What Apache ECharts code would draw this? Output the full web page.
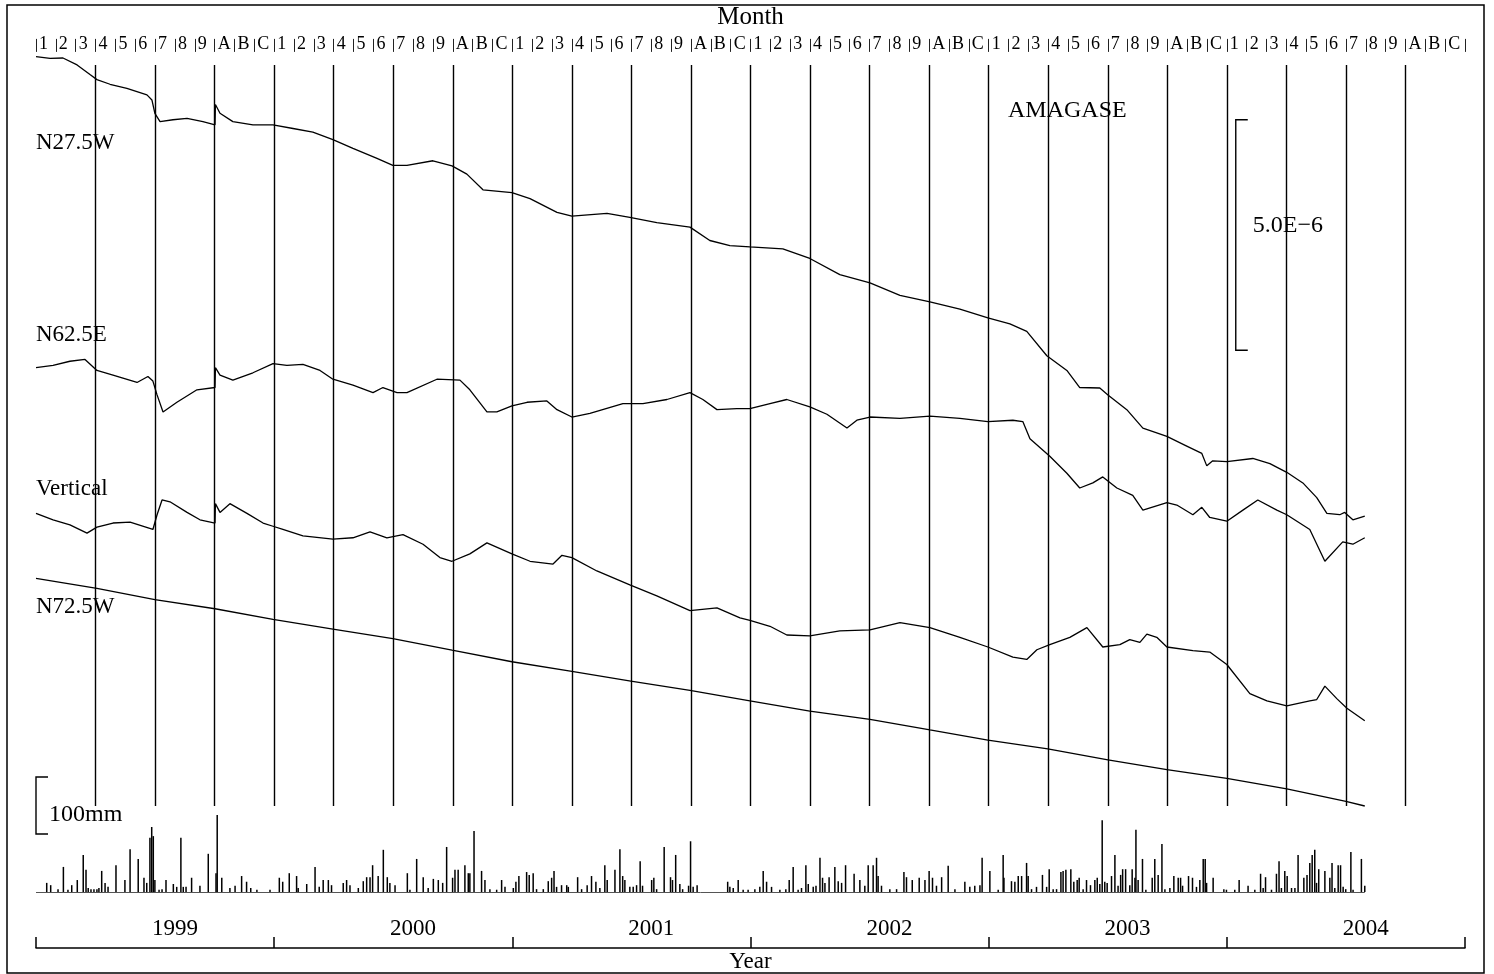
<!DOCTYPE html>
<html>
<head>
<meta charset="utf-8">
<script src="https://cdn.jsdelivr.net/npm/echarts@6.0.0/dist/echarts.min.js"></script>
<style>
  html, body { margin: 0; padding: 0; background: #fff; }
  #chart { width: 1494px; height: 974px; }
</style>
</head>
<body>
<div id="chart"></div>
<script>
// Month cells along the top (1..9, A=Oct, B=Nov, C=Dec) and the year labels below.
const MONTH_LABELS = ['1', '2', '3', '4', '5', '6', '7', '8', '9', 'A', 'B', 'C'];
const YEAR_LABELS = ['1999', '2000', '2001', '2002', '2003', '2004'];

// Strain traces: [months since 1999-01-01, strain in 1e-6 incl. the trace's plotting offset]
const N275W = [[0,16.26],[0.71,16.22],[1.36,16.23],[2.07,16.08],[2.72,15.87],[3.07,15.76],[3.73,15.66],[4.58,15.57],[5.59,15.43],[5.84,15.32],[5.99,15.03],[6.25,14.85],[6.90,14.89],[7.61,14.92],[8.41,14.85],[9.02,14.78],[9.04,15.22],[9.27,15.03],[9.92,14.85],[10.93,14.78],[11.94,14.78],[12.95,14.70],[13.95,14.62],[14.96,14.46],[15.97,14.27],[17.18,14.05],[17.98,13.90],[18.69,13.90],[20.00,14.00],[20.96,13.89],[21.71,13.71],[22.52,13.37],[23.98,13.31],[24.89,13.18],[26.25,12.88],[27.00,12.80],[28.77,12.86],[29.92,12.77],[31.28,12.66],[32.95,12.56],[33.95,12.27],[34.96,12.16],[35.97,12.13],[37.63,12.09],[38.99,11.88],[40.50,11.53],[42.02,11.35],[43.53,11.08],[45.04,10.94],[46.55,10.78],[47.96,10.59],[49.07,10.46],[49.92,10.30],[50.93,9.77],[51.94,9.45],[52.59,9.08],[53.60,9.07],[54.01,8.92],[54.96,8.60],[55.77,8.20],[56.98,8.02],[57.98,7.81],[58.74,7.65],[58.99,7.38],[59.29,7.49],[60.00,7.47],[61.31,7.54],[62.17,7.43],[63.02,7.24],[63.83,7.01],[64.53,6.69],[65.04,6.35],[65.69,6.32],[65.94,6.37],[66.35,6.21],[66.95,6.29]];

const N625E = [[0,9.51],[0.86,9.56],[1.71,9.65],[2.47,9.69],[3.07,9.45],[3.88,9.35],[5.09,9.19],[5.64,9.32],[5.89,9.22],[6.10,8.92],[6.40,8.55],[7.10,8.76],[8.11,9.03],[9.02,9.08],[9.04,9.51],[9.27,9.35],[9.92,9.24],[10.93,9.40],[11.94,9.60],[12.64,9.56],[13.45,9.58],[14.31,9.45],[14.96,9.26],[15.97,9.13],[16.98,8.97],[17.48,9.08],[18.19,8.97],[18.69,8.97],[20.20,9.26],[21.36,9.24],[21.86,9.03],[22.72,8.55],[23.22,8.55],[23.98,8.68],[24.74,8.76],[25.74,8.79],[26.25,8.60],[27.00,8.44],[27.91,8.52],[29.57,8.73],[30.58,8.73],[31.79,8.82],[32.95,8.97],[33.60,8.82],[34.31,8.60],[35.31,8.62],[35.97,8.62],[36.98,8.73],[37.83,8.82],[38.99,8.66],[39.85,8.50],[40.86,8.20],[41.36,8.37],[42.02,8.44],[43.53,8.41],[45.04,8.46],[46.55,8.41],[47.96,8.34],[49.22,8.37],[49.72,8.34],[50.08,7.97],[51.08,7.59],[51.94,7.22],[52.59,6.90],[53.25,7.01],[53.75,7.14],[54.46,6.90],[55.26,6.74],[55.77,6.42],[56.98,6.58],[57.48,6.53],[58.29,6.32],[58.74,6.48],[59.14,6.26],[60.00,6.18],[60.81,6.42],[61.56,6.64],[62.52,6.42],[63.02,6.32],[64.18,6.00],[64.94,5.31],[65.84,5.73],[66.35,5.68],[66.95,5.82]];

const VERTICAL = [[0,6.35],[0.86,6.21],[1.71,6.10],[2.57,5.92],[3.07,6.05],[3.88,6.14],[4.74,6.16],[5.89,6.00],[6.10,6.32],[6.35,6.64],[6.75,6.60],[7.61,6.37],[8.26,6.21],[9.02,6.14],[9.04,6.56],[9.27,6.37],[9.77,6.56],[10.63,6.35],[11.44,6.14],[11.94,6.07],[12.44,6.00],[13.45,5.86],[14.96,5.79],[15.97,5.82],[16.83,5.95],[17.68,5.82],[18.49,5.89],[19.50,5.68],[20.35,5.39],[20.96,5.31],[21.86,5.47],[22.72,5.71],[23.98,5.47],[24.89,5.31],[26.05,5.25],[26.50,5.44],[27.00,5.39],[28.26,5.10],[29.92,4.80],[31.28,4.56],[32.95,4.24],[34.31,4.30],[35.47,4.08],[35.97,4.03],[36.98,3.90],[37.83,3.71],[38.99,3.69],[40.50,3.80],[42.02,3.82],[43.53,3.98],[45.04,3.87],[46.55,3.66],[47.96,3.45],[49.22,3.23],[49.92,3.18],[50.43,3.39],[51.08,3.50],[52.09,3.66],[52.95,3.87],[53.75,3.45],[54.61,3.50],[55.11,3.61],[55.62,3.55],[55.97,3.73],[56.47,3.66],[56.98,3.45],[58.29,3.37],[59.14,3.34],[60.00,3.07],[61.16,2.44],[62.02,2.28],[63.02,2.17],[64.18,2.28],[64.53,2.31],[64.94,2.60],[65.54,2.33],[66.05,2.12],[66.95,1.85]];

const N725W = [[0,4.94],[3.07,4.72],[5.99,4.48],[9.02,4.28],[11.94,4.05],[14.96,3.84],[17.98,3.63],[20.96,3.38],[23.98,3.13],[27.00,2.92],[29.97,2.71],[32.95,2.51],[35.97,2.28],[38.99,2.06],[42.02,1.88],[45.04,1.65],[47.96,1.43],[50.98,1.24],[54.01,1.00],[56.98,0.79],[60.00,0.60],[63.02,0.37],[66.00,0.10],[66.95,0.00]];

// Daily precipitation: [months since 1999-01-01, mm]
const RAIN = [[0.54,16],[0.74,12],[1.11,5],[1.38,44],[1.61,4],[1.80,12],[2.08,21],[2.38,65],[2.52,39],[2.63,7],[2.77,5],[2.92,5],[3.07,5],[3.17,7],[3.31,37],[3.48,16],[3.63,9],[4.03,47],[4.48,21],[4.74,75],[5.15,58],[5.44,25],[5.58,16],[5.74,95],[5.83,114],[5.91,98],[5.99,21],[6.20,4],[6.35,5],[6.55,21],[6.92,14],[7.09,9],[7.30,95],[7.42,9],[7.56,9],[7.84,25],[8.26,11],[8.68,67],[9.07,33],[9.13,135],[9.36,25],[9.77,7],[10.03,11],[10.36,28],[10.61,18],[10.82,7],[11.13,4],[11.79,4],[12.26,25],[12.43,18],[12.76,33],[13.13,28],[13.21,7],[13.64,14],[14.06,44],[14.27,9],[14.47,21],[14.73,21],[14.89,12],[15.48,16],[15.65,21],[15.82,12],[16.24,7],[16.49,19],[16.66,26],[16.83,26],[16.96,47],[17.24,28],[17.50,74],[17.70,26],[17.83,16],[18.09,12],[18.71,33],[18.84,4],[19.18,58],[19.51,26],[19.76,7],[20.02,23],[20.27,21],[20.49,16],[20.69,79],[20.99,25],[21.11,39],[21.27,39],[21.61,47],[21.78,33],[21.86,33],[22.07,107],[22.45,37],[22.62,21],[22.87,5],[23.21,4],[23.46,21],[23.63,9],[24.05,7],[24.18,18],[24.33,28],[24.72,35],[24.85,30],[25.05,33],[25.22,5],[25.56,5],[25.81,19],[25.98,25],[26.10,37],[26.23,9],[26.48,12],[26.74,12],[26.82,9],[27.29,26],[27.49,5],[27.77,12],[27.99,28],[28.21,18],[28.41,7],[28.66,47],[28.78,21],[29.17,39],[29.42,75],[29.56,28],[29.67,21],[29.92,9],[30.09,9],[30.26,12],[30.44,54],[30.56,11],[31.02,21],[31.13,25],[31.27,5],[31.65,79],[31.97,26],[32.07,21],[32.23,65],[32.44,14],[32.58,5],[32.88,11],[32.98,89],[33.11,9],[33.31,12],[34.85,18],[34.96,9],[35.13,7],[35.38,21],[35.63,4],[35.88,4],[36.22,5],[36.47,9],[36.64,37],[36.81,18],[37.06,9],[37.48,4],[37.78,5],[37.95,21],[38.15,44],[38.40,4],[38.57,7],[38.79,47],[38.91,14],[39.16,9],[39.30,11],[39.50,60],[39.63,25],[39.75,16],[39.96,26],[40.25,44],[40.42,19],[40.59,16],[40.79,47],[41.22,32],[41.51,21],[41.76,11],[41.93,47],[42.18,47],[42.35,60],[42.43,28],[42.60,11],[43.02,5],[43.36,5],[43.73,35],[43.86,26],[44.15,21],[44.50,25],[44.79,21],[45.00,37],[45.17,25],[45.37,11],[45.63,26],[45.96,46],[46.30,5],[46.80,18],[47.05,9],[47.30,11],[47.56,12],[47.67,60],[48.06,37],[48.48,4],[48.73,65],[48.77,25],[49.15,19],[49.32,18],[49.49,28],[49.66,28],[49.91,51],[49.99,28],[50.16,5],[50.41,9],[50.71,30],[50.92,9],[51.05,40],[51.25,5],[51.42,5],[51.64,35],[51.75,37],[51.89,39],[52.14,40],[52.29,18],[52.46,21],[52.56,25],[52.76,5],[52.93,21],[53.13,12],[53.35,21],[53.47,25],[53.60,14],[53.72,126],[53.85,18],[53.97,16],[54.19,28],[54.36,65],[54.52,11],[54.65,30],[54.75,40],[54.90,40],[55.11,12],[55.23,40],[55.37,25],[55.42,109],[55.53,21],[55.75,58],[55.92,4],[56.24,25],[56.37,58],[56.54,30],[56.73,84],[56.88,5],[57.13,7],[57.33,28],[57.55,25],[57.67,25],[57.77,11],[58.07,28],[58.27,25],[58.47,9],[58.64,21],[58.81,58],[58.91,58],[58.98,16],[59.31,25],[59.85,5],[59.98,4],[60.40,4],[60.62,21],[61.07,11],[61.41,4],[61.70,32],[61.83,7],[61.95,26],[62.25,4],[62.50,32],[62.63,54],[62.75,7],[62.92,37],[63.04,28],[63.26,7],[63.43,7],[63.59,65],[63.88,25],[64.04,30],[64.18,51],[64.30,65],[64.43,74],[64.52,16],[64.63,40],[64.94,37],[65.19,25],[65.30,51],[65.44,7],[65.61,47],[65.73,47],[65.86,9],[65.99,5],[66.25,70],[66.36,4],[66.78,58],[66.95,11]];

// Scale bars: [month position, lower value, upper value]
const STRAIN_BAR = [[60.45, 9.89, 14.89]];
const RAIN_BAR = [[0, 101.75, 201.75]];

const TRACES = [
  { name: 'N27.5W', data: N275W, labelY: 143 },
  { name: 'N62.5E', data: N625E, labelY: 335 },
  { name: 'Vertical', data: VERTICAL, labelY: 489 },
  { name: 'N72.5W', data: N725W, labelY: 607 }
];

const FONT = '"Liberation Serif", "DejaVu Serif", serif';
const LEFT = 36, WIDTH = 1429;

function bracketSeries(data, xAxisIndex, yAxisIndex, label, textDx, textDy, anchor) {
  return {
    type: 'custom',
    xAxisIndex: xAxisIndex,
    yAxisIndex: yAxisIndex,
    clip: false,
    silent: true,
    data: data,
    renderItem: function (params, api) {
      const top = api.coord([api.value(0), api.value(2)]);
      const bot = api.coord([api.value(0), api.value(1)]);
      const x = top[0];
      const ty = anchor === 'bottom' ? bot[1] + textDy : (top[1] + bot[1]) / 2 + textDy;
      return {
        type: 'group',
        children: [
          {
            type: 'polyline',
            shape: { points: [[x + 12, top[1]], [x, top[1]], [x, bot[1]], [x + 12, bot[1]]] },
            style: { stroke: '#000', lineWidth: 1.4, fill: null }
          },
          {
            type: 'text',
            style: { text: label, x: x + textDx, y: ty, verticalAlign: 'middle', font: '24px ' + FONT, fill: '#000' }
          }
        ]
      };
    }
  };
}

const chart = echarts.init(document.getElementById('chart'));

const series = TRACES.map(t => ({
  name: t.name,
  type: 'line',
  xAxisIndex: 0,
  yAxisIndex: 0,
  data: t.data,
  symbol: 'none',
  clip: false,
  lineStyle: { color: '#000', width: 1.3 },
  animation: false
}));

series.push({
  name: 'Precipitation',
  type: 'bar',
  xAxisIndex: 2,
  yAxisIndex: 1,
  data: RAIN,
  barWidth: 1.5,
  itemStyle: { color: '#000' },
  animation: false,
  markLine: {
    silent: true,
    symbol: 'none',
    label: { show: false },
    lineStyle: { color: '#555', width: 1, type: 'solid' },
    data: [[{ coord: [0, 0] }, { coord: [RAIN[RAIN.length - 1][0], 0] }]]
  }
});

series.push(bracketSeries(STRAIN_BAR, 0, 0, '5.0E\u22126', 17, -9, 'middle'));
series.push(bracketSeries(RAIN_BAR, 2, 1, '100mm', 13, -19, 'bottom'));

const option = {
  backgroundColor: '#fff',
  animation: false,
  grid: [
    { left: LEFT, width: WIDTH, top: 63, height: 743 },
    { left: LEFT, width: WIDTH, top: 770, height: 122 },
    { left: LEFT, width: WIDTH, top: 930, height: 19 }
  ],
  xAxis: [
    {
      gridIndex: 0, type: 'value', min: 0, max: 72, interval: 3,
      axisLine: { show: false, onZero: false }, axisTick: { show: false }, axisLabel: { show: false },
      splitLine: { show: true, showMinLine: false, showMaxLine: false, lineStyle: { color: '#000', width: 1.4 } }
    },
    {
      gridIndex: 0, type: 'value', position: 'top', offset: 13, min: 0, max: 72, interval: 1,
      name: 'Month', nameLocation: 'middle', nameGap: 16,
      nameTextStyle: { fontFamily: FONT, fontSize: 25, color: '#000', verticalAlign: 'bottom' },
      axisLine: { show: false, onZero: false },
      axisTick: { show: true, length: 13, lineStyle: { color: '#222', width: 1 } },
      axisLabel: {
        show: true, margin: -1, align: 'left', padding: [0, 0, 0, 3],
        fontFamily: FONT, fontSize: 18, color: '#000',
        formatter: v => (v < 72 ? MONTH_LABELS[v % 12] : '')
      },
      splitLine: { show: false }
    },
    {
      gridIndex: 1, type: 'value', min: 0, max: 72, show: false,
      axisLine: { onZero: false }
    },
    {
      gridIndex: 2, type: 'value', position: 'bottom', min: 0, max: 72, interval: 12,
      name: 'Year', nameLocation: 'middle', nameGap: 1,
      nameTextStyle: { fontFamily: FONT, fontSize: 23, color: '#000', verticalAlign: 'top' },
      axisLine: { show: true, onZero: false, lineStyle: { color: '#000', width: 1.5 } },
      axisTick: { show: true, inside: true, length: 11, lineStyle: { color: '#000', width: 1.5 } },
      axisLabel: {
        show: true, inside: true, margin: 8,
        customValues: [7, 19, 31, 43, 55, 67],
        fontFamily: FONT, fontSize: 23, color: '#000',
        formatter: v => YEAR_LABELS[Math.round((v - 7) / 12)]
      },
      splitLine: { show: false }
    }
  ],
  yAxis: [
    { gridIndex: 0, type: 'value', min: 0, max: 16.08, show: false },
    { gridIndex: 1, type: 'value', min: 0, max: 214, show: false },
    { gridIndex: 2, type: 'value', min: 0, max: 1, show: false }
  ],
  graphic: [
    {
      type: 'rect', silent: true,
      shape: { x: 7, y: 5, width: 1477, height: 968 },
      style: { fill: null, stroke: '#000', lineWidth: 1.5 }
    },
    ...TRACES.map(t => ({
      type: 'text', silent: true, x: LEFT, y: t.labelY,
      style: { text: t.name, font: '23px ' + FONT, fill: '#000', verticalAlign: 'middle' }
    })),
    {
      type: 'text', silent: true, x: 1008, y: 111,
      style: { text: 'AMAGASE', font: '24px ' + FONT, fill: '#000', verticalAlign: 'middle' }
    }
  ],
  series: series
};

chart.setOption(option);
</script>
</body>
</html>
